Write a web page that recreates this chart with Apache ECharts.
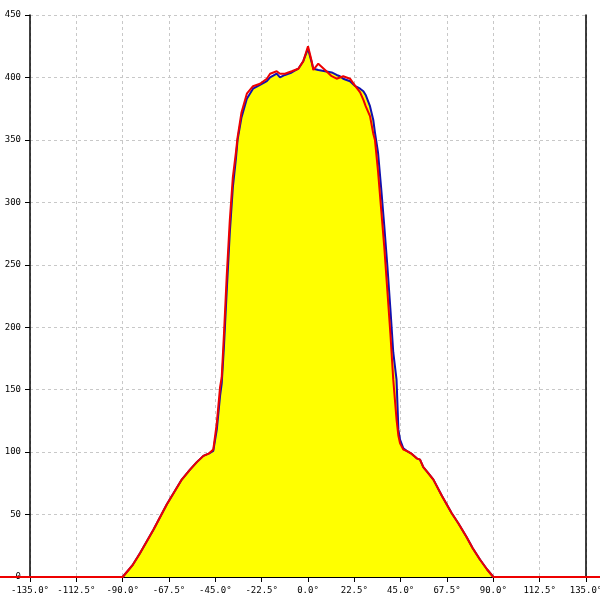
<!DOCTYPE html>
<html><head><meta charset="utf-8">
<script src="https://cdn.jsdelivr.net/npm/echarts@6/dist/echarts.min.js"></script>
<style>html,body{margin:0;padding:0;background:#fff}#c{width:600px;height:600px}</style>
</head><body><div id="c"></div>
<script>
const angles = [-150,-90,-85,-81.6,-75,-68.6,-61.3,-57.3,-54,-50.8,-48,-46,-44.3,-42.7,-41.9,-40.8,-39.5,-38,-36.5,-35,-34.2,-32.3,-29.7,-26.7,-23.3,-20,-18.4,-15.2,-13.6,-11.2,-7.9,-4.7,-2.3,0,1.8,2.6,5,8.3,11.5,13.9,15.5,17.1,20.4,23,25.3,26.9,28,30.1,31.7,32.5,34,35.5,37,38.5,40,41.4,43,43.9,44.7,46.3,47.9,50,52.8,54.4,56,58,60.9,65,69.8,73,77,80,83.5,87,90,145];
const redVals = [0,0,10,19,38,58,78,86,92,97,99,102,123,152,160,195,240,285,320,340,352,372,387,393,395,399,403,405,403,403,405,407,413,425,413,406,411,406,401,399,400,401,399,393,388,382,377,369,355,350,325,295,265,230,195,158,126,113,107,102,101,99,95,94,88,84,78,65,51,43,32,23,14,6,0,0];
const blueVals = [null,0,10,19,38,58,78,86,92,97,99,101,118,145,155,185,228,275,312,335,350,368,383,391,394,397,400,403,400,402,404,407,413,423,412,407,406,405,404,402,401,399,397,393,391,389,386,377,366,356,340,312,282,250,215,180,158,118,110,103,101,99,95,94,88,84,78,65,51,43,32,23,14,6,0,null];
const xTicks = {min:-135, max:135, step:22.5};
const yTicks = {min:0, max:450, step:50};

const W = 600, L = 30, R = 14, T = 15, B = 23;
// wide hidden axis spanning the whole canvas, same scale as the main axis
const pxPerDeg = (W - L - R) / (xTicks.max - xTicks.min);
const wideMin = xTicks.min - L / pxPerDeg, wideMax = xTicks.max + R / pxPerDeg;

const chart = echarts.init(document.getElementById('c'));
const font = 'DejaVu Sans Mono';
chart.setOption({
  animation:false,
  backgroundColor:'#fff',
  grid:[
    {left:L,right:R,top:T,bottom:B,containLabel:false,outerBoundsMode:'none'},
    {left:0,right:0,top:T,bottom:B,containLabel:false,outerBoundsMode:'none'}
  ],
  xAxis:[
    {type:'value',gridIndex:0,min:xTicks.min,max:xTicks.max,interval:xTicks.step,
    axisLine:{show:true,onZero:false,lineStyle:{color:'#000',width:1}},
    axisTick:{show:true,length:5,lineStyle:{color:'#000'}},
    axisLabel:{color:'#000',fontFamily:font,fontSize:9,margin:9,formatter:v=>v.toFixed(1)+'°',showMinLabel:true,showMaxLabel:true,hideOverlap:false},
    splitLine:{show:true,lineStyle:{color:'#c8c8c8',type:[3,3]}}},
    {type:'value',gridIndex:1,min:wideMin,max:wideMax,show:false}
  ],
  yAxis:[{type:'value',gridIndex:0,min:yTicks.min,max:yTicks.max,interval:yTicks.step,
    axisLine:{show:true,onZero:false,lineStyle:{color:'#000',width:1.5}},
    axisTick:{show:true,length:5,lineStyle:{color:'#000'}},
    axisLabel:{color:'#000',fontFamily:font,fontSize:9,margin:9},
    splitLine:{show:true,lineStyle:{color:'#c8c8c8',type:[3,3]}}},
   {type:'value',gridIndex:0,min:yTicks.min,max:yTicks.max,interval:yTicks.step,position:'right',
    axisLine:{show:true,onZero:false,lineStyle:{color:'#000',width:1.5}},
    axisTick:{show:false},axisLabel:{show:false},splitLine:{show:false}},
   {type:'value',gridIndex:1,min:yTicks.min,max:yTicks.max,show:false}],
  series:[
    {type:'line',name:'blue',xAxisIndex:0,yAxisIndex:0,data:angles.map((a,i)=>[a,blueVals[i]]),symbol:'none',z:3,
      lineStyle:{color:'#1010b0',width:2},areaStyle:{color:'#ffff00',opacity:1}},
    {type:'line',name:'red',xAxisIndex:1,yAxisIndex:2,data:angles.map((a,i)=>[a,redVals[i]]),symbol:'none',clip:false,z:4,
      lineStyle:{color:'#ee0000',width:2}}
  ]
});
</script></body></html>
